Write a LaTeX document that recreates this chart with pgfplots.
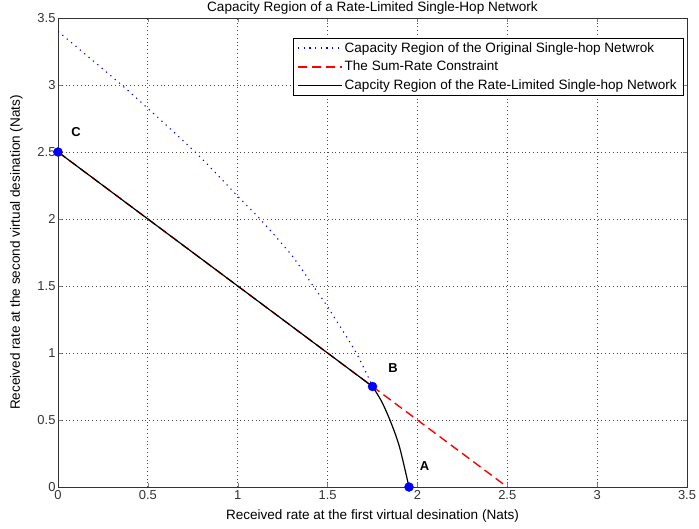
\documentclass[border=0pt]{standalone}
\usepackage{fontspec}
\setmainfont{Liberation Sans}
\usepackage{pgfplots}
\pgfplotsset{compat=1.18}

\begin{document}
\begin{tikzpicture}
\begin{axis}[
  at={(0,0)}, anchor=south west,
  scale only axis,
  width=629bp, height=469bp,
  xmin=0, xmax=3.5, ymin=0, ymax=3.5,
  xtick={0,0.5,...,3.5}, ytick={0,0.5,...,3.5},
  /pgf/number format/assume math mode=true,
  tick label style={font=\fontsize{13}{15}\selectfont, text=black!80},
  xticklabel style={yshift=0bp},
  yticklabel style={xshift=1bp},
  tick align=inside, tick pos=both,
  major tick length=4bp,
  grid=major,
  major grid style={black!70, dash pattern=on 0.8bp off 3bp, line width=0.8pt},
  axis line style={black!80, line width=0.6pt},
  title={Capacity Region of a Rate-Limited Single-Hop Network},
  title style={font=\fontsize{13.6}{15}\selectfont, yshift=-6bp},
  xlabel={Received rate at the first virtual desination (Nats)},
  ylabel={Received rate at the second virtual desination (Nats)},
  label style={font=\fontsize{13.6}{15}\selectfont},
  xlabel style={yshift=-3bp},
  ylabel style={yshift=8bp},
  legend style={at={(rel axis cs:0.9936,0.957)}, anchor=north east,
    font=\fontsize{13.6}{15}\selectfont,
    inner xsep=4bp, inner ysep=2bp, row sep=3.5bp, cells={anchor=west}},
  legend image code/.code={\draw[#1] (0bp,0bp) -- (44bp,0bp);},
]
% capacity region of the original network
\addplot[draw=blue, smooth, tension=0.4, dash pattern=on 1.2bp off 4.5bp, line width=1.1pt] coordinates {
  (0,3.40) (0.38,2.97) (0.763,2.5) (1.0,2.17) (1.124,2.0)
  (1.30,1.73) (1.42,1.5) (1.5,1.345) (1.66,1.0) (1.75,0.75)
};
\addlegendentry{Capacity Region of the Original Single-hop Netwrok}
% sum-rate constraint R1 + R2 = 2.5
\addplot[draw=red, dash pattern=on 9bp off 5bp, line width=1.4pt] coordinates {(0,2.5) (2.5,0)};
\addlegendentry{The Sum-Rate Constraint}
% rate-limited region boundary
\addplot[draw=black, line width=1.2pt] coordinates {(0,2.5) (1.75,0.75)};
\addlegendentry{Capcity Region of the Rate-Limited Single-hop Network}
\addplot[draw=black, line width=1.2pt, smooth, forget plot] coordinates {
  (1.75,0.75) (1.80,0.64) (1.85,0.49) (1.90,0.30) (1.953,0)
};
% corner points
\addplot[only marks, mark=*, mark size=4.5bp, blue, forget plot]
  coordinates {(0,2.5) (1.75,0.75) (1.953,0)};
\node[font=\fontsize{13}{15}\selectfont\bfseries] at (axis cs:0.10,2.65) {C};
\node[font=\fontsize{13}{15}\selectfont\bfseries] at (axis cs:1.864,0.888) {B};
\node[font=\fontsize{13}{15}\selectfont\bfseries] at (axis cs:2.04,0.16) {A};
\end{axis}
\pgfresetboundingbox
\path[use as bounding box] (-58bp,-42bp) rectangle (641bp,487bp);
\end{tikzpicture}
\end{document}
